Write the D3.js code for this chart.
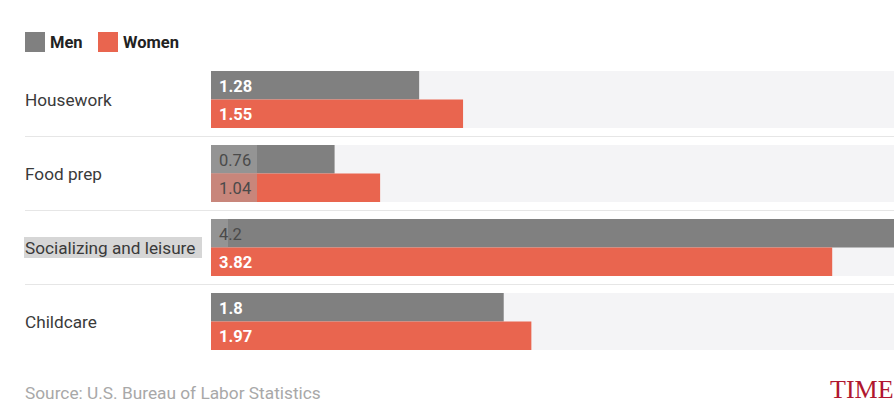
<!DOCTYPE html>
<html>
<head>
<meta charset="utf-8">
<script src="https://cdn.jsdelivr.net/npm/d3@7"></script>
<style>
  body { margin: 0; background: #fff; }
  svg { display: block; font-family: Roboto, "Noto Sans", sans-serif; }
</style>
</head>
<body>
<script>
// data
const categories = ["Housework", "Food prep", "Socializing and leisure", "Childcare"];
const menHours = [1.28, 0.76, 4.2, 1.8];
const womenHours = [1.55, 1.04, 3.82, 1.97];
const seriesNames = ["Men", "Women"];

const width = 894, height = 415;
const colors = { Men: "#808080", Women: "#e9654f" };

const svg = d3.select("body").append("svg")
  .attr("width", width)
  .attr("height", height);

const rows = categories.map((c, i) => ({ cat: c, values: [menHours[i], womenHours[i]] }));

// scales
const x = d3.scaleLinear().domain([0, 4.2]).range([211, 894]);
const y = d3.scaleBand().domain(categories)
  .range([62.5, 358.5])
  .paddingInner(17 / 74)
  .paddingOuter(8.5 / 74);
const ySub = d3.scaleBand().domain(seriesNames).range([0, y.bandwidth()]);

// legend
const legend = svg.append("g").attr("transform", "translate(25,32)");
let lx = 0;
seriesNames.forEach((s, i) => {
  legend.append("rect").attr("x", lx).attr("y", 0).attr("width", 20).attr("height", 20).attr("fill", colors[s]);
  legend.append("text").attr("x", lx + 25).attr("y", 15.5)
    .attr("font-size", 16.5).attr("font-weight", 700).attr("fill", "#222").text(s);
  lx += (i === 0 ? 73 : 0);
});

// separators
categories.slice(1).forEach(c => {
  const sy = y(c) - y.step() * y.paddingInner() / 2;
  svg.append("line").attr("x1", 25).attr("x2", width).attr("y1", sy).attr("y2", sy)
    .attr("stroke", "#e6e6e6").attr("stroke-width", 1);
});

const row = svg.selectAll("g.row").data(rows).join("g")
  .attr("class", "row")
  .attr("transform", d => `translate(0,${y(d.cat)})`);

// background track
row.append("rect")
  .attr("x", x(0)).attr("y", 0)
  .attr("width", x.range()[1] - x(0))
  .attr("height", y.bandwidth())
  .attr("fill", "#f4f4f6");

// highlight behind "Socializing and leisure"
row.filter(d => d.cat === "Socializing and leisure")
  .append("rect")
  .attr("x", 24).attr("y", y.bandwidth() / 2 - 10.5)
  .attr("width", 178).attr("height", 21)
  .attr("fill", "#d6d6d6");

row.append("text")
  .attr("x", 25).attr("y", y.bandwidth() / 2)
  .attr("dy", "0.35em")
  .attr("font-size", 17.2).attr("fill", "#3a3a3a")
  .text(d => d.cat);

// bars
const bar = row.selectAll("g.bar").data(d => d.values.map((v, i) => ({ cat: d.cat, s: seriesNames[i], v })))
  .join("g").attr("class", "bar")
  .attr("transform", d => `translate(0,${ySub(d.s)})`);

bar.append("rect")
  .attr("x", x(0)).attr("y", 0)
  .attr("width", d => x(d.v) - x(0))
  .attr("height", ySub.bandwidth())
  .attr("fill", d => colors[d.s]);

// a few labels look washed out in the original screenshot
function fadeWidth(d) {
  if (d.cat === "Food prep") return 46;
  if (d.cat === "Socializing and leisure" && d.s === "Men") return 17;
  return 0;
}

bar.filter(d => fadeWidth(d) > 0).append("rect")
  .attr("x", x(0)).attr("y", 0)
  .attr("width", d => fadeWidth(d))
  .attr("height", ySub.bandwidth())
  .attr("fill", "#a8a8a8").attr("opacity", 0.5);

bar.append("text")
  .attr("x", x(0) + 8)
  .attr("y", ySub.bandwidth() / 2)
  .attr("dy", "0.38em")
  .attr("font-size", 16.5)
  .attr("font-weight", d => fadeWidth(d) > 0 ? 400 : 700)
  .attr("fill", d => fadeWidth(d) > 0 ? "#4a4a4a" : "#fff")
  .text(d => d.v);

// footer
svg.append("text").attr("x", 25).attr("y", 399)
  .attr("font-size", 17.3).attr("fill", "#a8a8a8")
  .text("Source: U.S. Bureau of Labor Statistics");

svg.append("text").attr("x", 830).attr("y", 398)
  .attr("font-family", "'Liberation Serif', 'DejaVu Serif', serif")
  .attr("font-size", 26).attr("fill", "#b0172f")
  .text("TIME");
</script>
</body>
</html>
